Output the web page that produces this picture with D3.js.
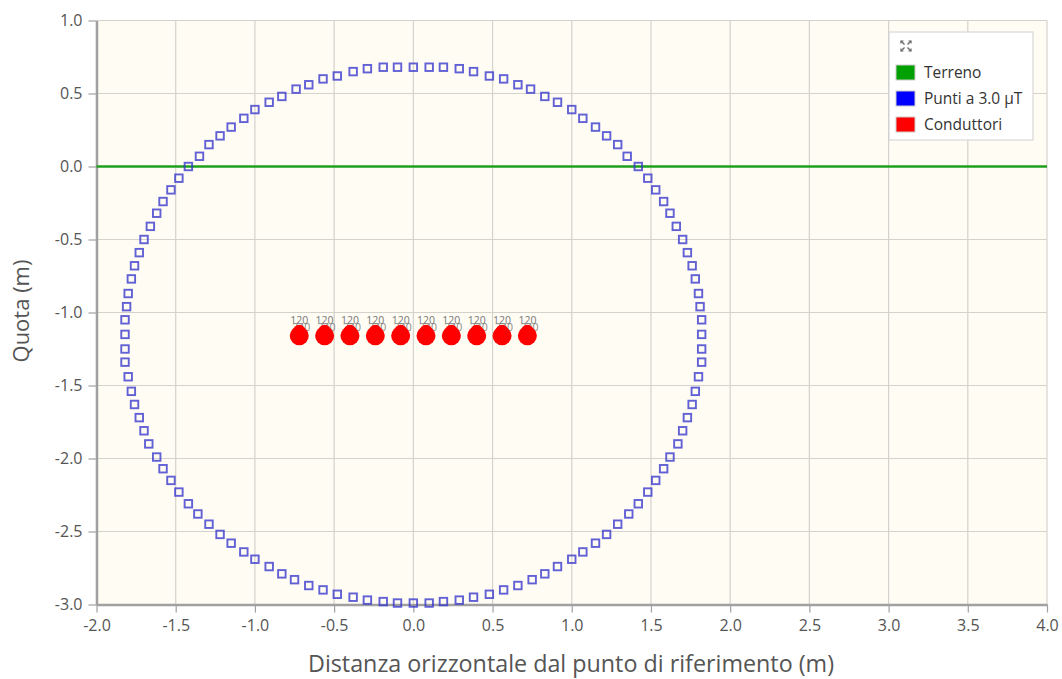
<!DOCTYPE html>
<html>
<head>
<meta charset="utf-8">
<script src="https://cdn.jsdelivr.net/npm/d3@7/dist/d3.min.js"></script>
<style>
  html, body { margin: 0; padding: 0; background: #ffffff; }
  svg { display: block; font-family: "Open Sans", "Noto Sans", sans-serif; }
</style>
</head>
<body>
<svg id="chart" width="1062" height="679"></svg>
<script>
// Axis ticks (metres)
const xTicks = [-2.0, -1.5, -1.0, -0.5, 0.0, 0.5, 1.0, 1.5, 2.0, 2.5, 3.0, 3.5, 4.0];
const yTicks = [-3.0, -2.5, -2.0, -1.5, -1.0, -0.5, 0.0, 0.5, 1.0];

// Ground level
const groundLevel = 0.0;

// Iso-induction contour at 3.0 µT: horizontal and vertical coordinates (m)
const contourX = [
  0.00, -0.10, -0.19, -0.29, -0.38, -0.48, -0.57, -0.66, -0.74, -0.83,
  -0.91, -1.00, -1.07, -1.15, -1.22, -1.29, -1.35, -1.42, -1.48, -1.53,
  -1.58, -1.62, -1.66, -1.70, -1.73, -1.76, -1.78, -1.80, -1.81, -1.82,
  -1.82, -1.82, -1.82, -1.80, -1.78, -1.76, -1.73, -1.70, -1.67, -1.62,
  -1.58, -1.53, -1.48, -1.42, -1.36, -1.29, -1.22, -1.15, -1.07, -1.00,
  -0.91, -0.83, -0.75, -0.66, -0.57, -0.48, -0.38, -0.29, -0.19, -0.10,
  0.00, 0.10, 0.19, 0.29, 0.38, 0.48, 0.57, 0.66, 0.75, 0.83,
  0.91, 1.00, 1.07, 1.15, 1.22, 1.29, 1.36, 1.42, 1.48, 1.53,
  1.58, 1.62, 1.67, 1.70, 1.73, 1.76, 1.78, 1.80, 1.82, 1.82,
  1.82, 1.82, 1.81, 1.80, 1.78, 1.76, 1.73, 1.70, 1.66, 1.62,
  1.58, 1.53, 1.48, 1.42, 1.35, 1.29, 1.22, 1.15, 1.07, 1.00,
  0.91, 0.83, 0.74, 0.66, 0.57, 0.48, 0.38, 0.29, 0.19, 0.10
];
const contourY = [
  0.68, 0.68, 0.68, 0.67, 0.65, 0.62, 0.60, 0.56, 0.53, 0.48,
  0.44, 0.39, 0.33, 0.27, 0.21, 0.15, 0.07, 0.00, -0.08, -0.16,
  -0.24, -0.32, -0.41, -0.50, -0.59, -0.68, -0.77, -0.87, -0.96, -1.05,
  -1.15, -1.25, -1.34, -1.44, -1.54, -1.63, -1.72, -1.81, -1.90, -1.99,
  -2.07, -2.15, -2.23, -2.31, -2.38, -2.45, -2.52, -2.58, -2.64, -2.69,
  -2.74, -2.79, -2.83, -2.87, -2.90, -2.93, -2.95, -2.97, -2.98, -2.99,
  -2.99, -2.99, -2.98, -2.97, -2.95, -2.93, -2.90, -2.87, -2.83, -2.79,
  -2.74, -2.69, -2.64, -2.58, -2.52, -2.45, -2.38, -2.31, -2.23, -2.15,
  -2.07, -1.99, -1.90, -1.81, -1.72, -1.63, -1.54, -1.44, -1.34, -1.25,
  -1.15, -1.05, -0.96, -0.87, -0.77, -0.68, -0.59, -0.50, -0.41, -0.32,
  -0.24, -0.16, -0.08, 0.00, 0.07, 0.15, 0.21, 0.27, 0.33, 0.39,
  0.44, 0.48, 0.53, 0.56, 0.60, 0.62, 0.65, 0.67, 0.68, 0.68
];

// Conductors: horizontal position, depth and label lines
const conductorX = [-0.72, -0.56, -0.40, -0.24, -0.08, 0.08, 0.24, 0.40, 0.56, 0.72];
const conductorDepth = -1.16;
const conductorLabelTop = "120";
const conductorLabelBottom = "240";

// Legend entries
const legendNames = ["Terreno", "Punti a 3.0 µT", "Conduttori"];
const legendColors = ["#00a000", "#0000ff", "#ff0000"];

const svg = d3.select("#chart");
const plot = { left: 96.5, right: 1047, top: 20.5, bottom: 604.5 };

const x = d3.scaleLinear().domain([-2, 4]).range([plot.left, plot.right]);
const y = d3.scaleLinear().domain([-3, 1]).range([plot.bottom, plot.top]);
const fmt = d => d.toFixed(1);

// Plot background
svg.append("rect")
  .attr("x", plot.left).attr("y", plot.top)
  .attr("width", plot.right - plot.left).attr("height", plot.bottom - plot.top)
  .attr("fill", "#fffcf4");

// Grid
const grid = svg.append("g").attr("stroke", "#d4d2cc").attr("stroke-width", 1.2);
grid.selectAll("line.gx").data(xTicks).join("line")
  .attr("x1", d => x(d)).attr("x2", d => x(d))
  .attr("y1", plot.top).attr("y2", plot.bottom);
grid.selectAll("line.gy").data(yTicks).join("line")
  .attr("x1", plot.left).attr("x2", plot.right)
  .attr("y1", d => y(d)).attr("y2", d => y(d));

// Axes
const xAxis = d3.axisBottom(x).tickValues(xTicks).tickFormat(fmt).tickSize(8).tickSizeOuter(0).tickPadding(7);
const yAxis = d3.axisLeft(y).tickValues(yTicks).tickFormat(fmt).tickSize(8).tickSizeOuter(0).tickPadding(6);

const gx = svg.append("g").attr("transform", `translate(0,${plot.bottom})`).call(xAxis);
const gy = svg.append("g").attr("transform", `translate(${plot.left},0)`).call(yAxis);
[gx, gy].forEach(g => {
  g.select(".domain").attr("stroke", "#a0a0a0").attr("stroke-width", 2.5);
  g.selectAll(".tick line").attr("stroke", "#a0a0a0").attr("stroke-width", 1.2);
  g.selectAll(".tick text").attr("fill", "#555").style("font-size", "16px")
    .style("font-family", "'Open Sans', 'Noto Sans', sans-serif");
});

// Axis titles
svg.append("text")
  .attr("x", 571).attr("y", 672)
  .attr("text-anchor", "middle").attr("fill", "#555").style("font-size", "23.3px")
  .text("Distanza orizzontale dal punto di riferimento (m)");
svg.append("text")
  .attr("transform", `translate(29,311) rotate(-90)`)
  .attr("text-anchor", "middle").attr("fill", "#555").style("font-size", "22px")
  .text("Quota (m)");

// Ground line
svg.append("line")
  .attr("x1", plot.left).attr("x2", plot.right)
  .attr("y1", y(groundLevel)).attr("y2", y(groundLevel))
  .attr("stroke", "#1ea01e").attr("stroke-width", 2.5);

// Contour points
const contour = contourX.map((v, i) => [v, contourY[i]]);
const sq = 7.5;
svg.append("g").selectAll("rect").data(contour).join("rect")
  .attr("x", d => x(d[0]) - sq / 2).attr("y", d => y(d[1]) - sq / 2)
  .attr("width", sq).attr("height", sq)
  .attr("fill", "none").attr("stroke", "#3434cc").attr("stroke-opacity", 0.78)
  .attr("stroke-width", 1.9);

// Conductor labels then conductors
const cond = svg.append("g");
cond.selectAll("text.t1").data(conductorX).join("text")
  .attr("x", d => x(d)).attr("y", y(conductorDepth) - 12)
  .attr("text-anchor", "middle").attr("fill", "#777").style("font-size", "10.5px")
  .text(conductorLabelTop);
cond.selectAll("text.t2").data(conductorX).join("text")
  .attr("x", d => x(d) + 2).attr("y", y(conductorDepth) - 5)
  .attr("text-anchor", "middle").attr("fill", "#888").style("font-size", "10.5px")
  .text(conductorLabelBottom);
cond.selectAll("circle").data(conductorX).join("circle")
  .attr("cx", d => x(d)).attr("cy", y(conductorDepth))
  .attr("r", 9.5).attr("fill", "#ff0000");
cond.selectAll("circle.cap").data(conductorX).join("circle")
  .attr("cx", d => x(d)).attr("cy", y(conductorDepth) - 4.5)
  .attr("r", 6.5).attr("fill", "#ff0000");

// Legend
const lg = svg.append("g").attr("transform", "translate(889,32)");
lg.append("rect").attr("width", 144).attr("height", 108)
  .attr("fill", "#ffffff").attr("stroke", "#d0d0d0");
// expand icon
const ic = lg.append("g").attr("transform", "translate(17,14)")
  .attr("stroke", "#666").attr("stroke-width", 1.2).attr("fill", "none");
[[-1, -1], [1, -1], [-1, 1], [1, 1]].forEach(([sx, sy]) => {
  ic.append("line").attr("x1", sx * 1.5).attr("y1", sy * 1.5).attr("x2", sx * 5).attr("y2", sy * 5);
  ic.append("path").attr("d", `M${sx * 5},${sy * 2.5}L${sx * 5},${sy * 5}L${sx * 2.5},${sy * 5}`);
});
legendNames.forEach((name, i) => {
  const row = lg.append("g").attr("transform", `translate(7,${33 + i * 26})`);
  row.append("rect").attr("width", 19).attr("height", 15)
    .attr("fill", legendColors[i]).attr("stroke", "#ccc").attr("stroke-width", 1);
  row.append("text").attr("x", 28).attr("y", 13).attr("fill", "#333")
    .style("font-size", "15.5px").text(name);
});
</script>
</body>
</html>
